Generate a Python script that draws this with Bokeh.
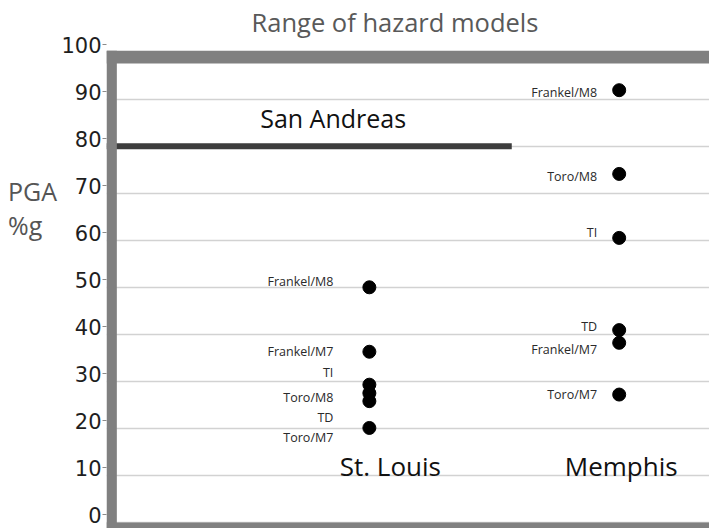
from bokeh.plotting import figure
from bokeh.models import (Range1d, FixedTicker, LinearAxis, BoxAnnotation, Div,
                          ColumnDataSource)
from bokeh.layouts import row
from bokeh.core.properties import value
from bokeh.embed import file_html
from bokeh.resources import INLINE

# ---------------- data ----------------
chart_title = "Range of hazard models"
y_title_1 = "PGA"
y_title_2 = "%g"
cities = ["St. Louis", "Memphis"]
y_ticks = [0, 10, 20, 30, 40, 50, 60, 70, 80, 90, 100]

stl_models = ["Frankel/M8", "Frankel/M7", "TI", "Toro/M8", "TD", "Toro/M7"]
stl_pga = [50.0, 36.3, 29.3, 27.5, 25.8, 20.1]

mem_models = ["Frankel/M8", "Toro/M8", "TI", "TD", "Frankel/M7", "Toro/M7"]
mem_pga = [91.9, 74.1, 60.5, 40.9, 38.2, 27.2]

san_andreas_label = "San Andreas"
san_andreas_pga = 80

# ---------------- layout / style ----------------
# label vertical nudges (screen px, + = down) so the labels do not collide
stl_label_dy = [-6, 0, -12, 4, 16, 10]
mem_label_dy = [2, 3, -5, -4, 7, 0]

X0, X1 = -0.0522, 2.3615
Y0, Y1 = -1.273, 102.25
SHIFT_LAB = 1.6   # tick labels sit a few px above their value

p = figure(width=651, height=528,
           x_range=Range1d(X0, X1), y_range=Range1d(Y0, Y1),
           output_backend="svg", toolbar_location=None,
           x_axis_location=None, y_axis_location=None,
           min_border_left=46, min_border_right=0,
           min_border_top=40, min_border_bottom=0,
           outline_line_color=None, background_fill_color="white",
           border_fill_color="white")

p.extra_y_ranges = {"labels": Range1d(Y0 - SHIFT_LAB, Y1 - SHIFT_LAB)}

# title
p.title.text = chart_title
p.title.align = "left"
p.title.offset = 145
p.title.standoff = 5
p.title.text_font = "Open Sans"
p.title.text_font_size = "25.5px"
p.title.text_font_style = "normal"
p.title.text_color = "#595959"

# gridlines at true values
p.ygrid.ticker = FixedTicker(ticks=y_ticks)
p.ygrid.axis = None
p.ygrid.grid_line_color = "#d2d2d2"
p.ygrid.grid_line_width = 1.5
p.xgrid.visible = False

# y axis (labels)
lax = LinearAxis(y_range_name="labels", ticker=FixedTicker(ticks=y_ticks))
lax.major_tick_line_color = "#8a8a8a"
lax.major_tick_out = 4
lax.major_tick_in = 0
lax.minor_tick_line_color = None
lax.minor_tick_out = 0
lax.axis_line_color = None
lax.major_label_standoff = 1
lax.major_label_text_font = "DejaVu Sans"
lax.major_label_text_font_size = "21px"
lax.major_label_text_color = "#1e1e1e"
p.add_layout(lax, "left")

# San Andreas reference line
p.segment(x0=[X0], y0=[san_andreas_pga], x1=[1.57], y1=[san_andreas_pga],
          line_width=6, line_color="#3d3d3d")
p.text(x=[0.855], y=[san_andreas_pga], text=[san_andreas_label], y_offset=-28,
       text_align="center", text_baseline="middle",
       text_font=value("Open Sans"), text_font_size="25px", text_color="#111111")

# points + labels
stl_x = [cities.index("St. Louis") + 1] * len(stl_pga)
mem_x = [cities.index("Memphis") + 1] * len(mem_pga)

src_stl = ColumnDataSource(dict(x=stl_x, y=stl_pga, m=stl_models, dy=stl_label_dy))
src_mem = ColumnDataSource(dict(x=mem_x, y=mem_pga, m=mem_models, dy=mem_label_dy))

for src, dx in ((src_stl, -36), (src_mem, -22)):
    p.scatter("x", "y", source=src, size=13, color="black")
    p.text("x", "y", text="m", source=src, x_offset=dx, y_offset="dy",
           text_align="right", text_baseline="middle",
           text_font=value("Open Sans"), text_font_size="12.5px",
           text_color="#2a2a2a")

# city names
p.text(x=[1, 2], y=[12, 12], text=cities, x_offset=[21, 2],
       text_align="center", text_baseline="middle",
       text_font=value("Open Sans"), text_font_size="26px", text_color="#111111")

# thick gray frame
border = "#808080"
p.add_layout(BoxAnnotation(bottom=97.58, top=100.3, fill_color=border,
                           fill_alpha=1, line_color=None))
p.add_layout(BoxAnnotation(right=-0.0108, top=100.3, fill_color=border,
                           fill_alpha=1, line_color=None))
p.add_layout(BoxAnnotation(top=0, fill_color=border, fill_alpha=1, line_color=None))

# y title (left of the tick labels)
ytitle = Div(
    text=(f'<div style="padding:174px 0 0 8px; font-family:\'Open Sans\'; '
          f'font-size:25px; line-height:34px; color:#555555;">'
          f'{y_title_1}<br>{y_title_2}</div>'),
    width=58, height=528, margin=0)

layout = row(ytitle, p, spacing=0)

open("out.html", "w").write(file_html(layout, INLINE))
